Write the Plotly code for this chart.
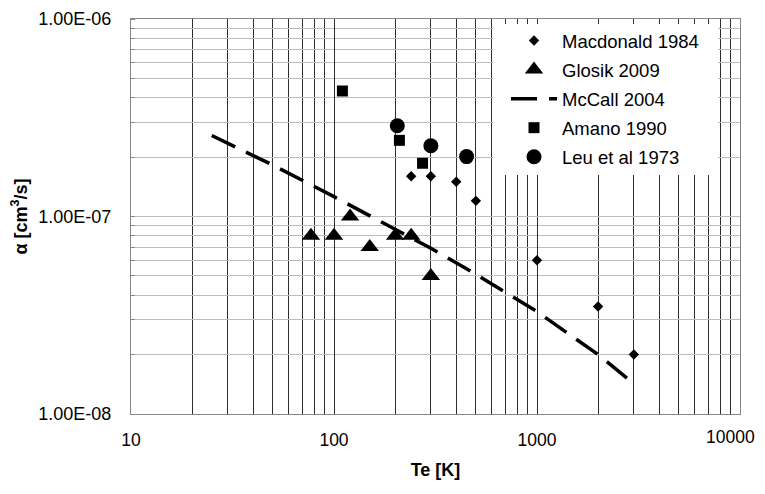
import plotly.graph_objects as go

# ---- data ----
macdonald_T = [240, 300, 400, 500, 1000, 2000, 3000]
macdonald_a = [1.6e-7, 1.6e-7, 1.5e-7, 1.2e-7, 6.0e-8, 3.5e-8, 2.0e-8]

glosik_T = [77, 100, 120, 150, 200, 240, 300]
glosik_a = [8.0e-8, 8.0e-8, 1.0e-7, 7.0e-8, 8.0e-8, 8.0e-8, 5.0e-8]

mccall_T = [25, 50, 100, 200, 300, 500, 1000, 1500, 2000, 3000]
mccall_a = [2.57e-7, 1.82e-7, 1.26e-7, 8.6e-8, 6.9e-8, 5.1e-8, 3.3e-8, 2.46e-8, 2.0e-8, 1.42e-8]

amano_T = [110, 210, 273]
amano_a = [4.32e-7, 2.43e-7, 1.86e-7]

leu_T = [205, 300, 450]
leu_a = [2.88e-7, 2.28e-7, 2.01e-7]

x_tickvals = [10, 100, 1000, 10000]
x_ticktext = ["10", "100", "1000", "10000"]
y_tickvals = [1e-8, 1e-7, 1e-6]
y_ticktext = ["1.00E-08", "1.00E-07", "1.00E-06"]

FONT = "Liberation Sans, Arial, sans-serif"

# page is drawn with an 8px body margin; plot area in figure pixels
OFF = 8
L, R, T, B = 131 - OFF, 740 - OFF, 19 - OFF, 414 - OFF
W, H = 765 - OFF, 494 - OFF
PW, PH = R - L, B - T


def px_x(p):  # reference page pixel -> paper x
    return (p - OFF - L) / PW


def px_y(p):  # reference page pixel -> paper y
    return 1 - (p - OFF - T) / PH


fig = go.Figure()
fig.add_trace(go.Scatter(x=macdonald_T, y=macdonald_a, mode="markers", name="Macdonald 1984",
                         legendgroup="a", marker=dict(symbol="diamond", size=8, color="black")))
fig.add_trace(go.Scatter(x=glosik_T, y=glosik_a, mode="markers", name="Glosik 2009",
                         legendgroup="b", marker=dict(symbol="triangle-up", size=16, color="black")))
fig.add_trace(go.Scatter(x=mccall_T, y=mccall_a, mode="lines", name="McCall 2004",
                         legendgroup="c", line=dict(color="black", width=3.5, dash="26px,12px")))
fig.add_trace(go.Scatter(x=amano_T, y=amano_a, mode="markers", name="Amano 1990",
                         legendgroup="d", marker=dict(symbol="square", size=11, color="black")))
fig.add_trace(go.Scatter(x=leu_T, y=leu_a, mode="markers", name="Leu et al 1973",
                         legendgroup="e", marker=dict(symbol="circle", size=15, color="black")))

# white legend panel covering the grid
fig.add_shape(type="rect", xref="paper", yref="paper",
              x0=px_x(493), x1=px_x(718), y0=px_y(175), y1=px_y(24),
              fillcolor="white", line=dict(width=0), layer="above")

# last x tick label drawn as an annotation so that it stays inside the visible window
fig.add_annotation(text=x_ticktext[-1], xref="paper", yref="paper",
                   x=px_x(756), y=0, xanchor="right", yanchor="middle", yshift=-23,
                   showarrow=False, font=dict(size=17.5), borderpad=0)

fig.update_layout(
    width=W, height=H,
    margin=dict(l=L, r=W - R, t=T, b=H - B, autoexpand=False),
    paper_bgcolor="white", plot_bgcolor="white",
    font=dict(family=FONT, size=18, color="black"),
    showlegend=True,
    legend=dict(x=px_x(506), y=px_y(22), xanchor="left", yanchor="top",
                bgcolor="rgba(0,0,0,0)", borderwidth=0, font=dict(size=18.5),
                itemwidth=46, tracegroupgap=2, traceorder="grouped"),
)
fig.update_xaxes(
    type="log", range=[1, 4], automargin=False,
    tickmode="array", tickvals=x_tickvals[:-1], ticktext=x_ticktext[:-1],
    ticks="", ticklabelstandoff=10, ticklabeloverflow="allow",
    showgrid=True, gridcolor="#2e2e2e", gridwidth=1,
    minor=dict(dtick="D1", showgrid=True, gridcolor="#2e2e2e", gridwidth=1, ticks=""),
    showline=True, linecolor="#868686", linewidth=1, mirror=True,
    zeroline=False,
    title=dict(text="<b>Te [K]</b>", font=dict(size=18), standoff=14),
    tickfont=dict(size=17.5),
)
fig.update_yaxes(
    type="log", range=[-8, -6], automargin=False,
    tickmode="array", tickvals=y_tickvals, ticktext=y_ticktext,
    ticks="", ticklabelstandoff=15, ticklabeloverflow="allow",
    showgrid=True, gridcolor="#bdbdbd", gridwidth=1,
    minor=dict(dtick="D1", showgrid=True, gridcolor="#bdbdbd", gridwidth=1,
               ticks="inside", ticklen=4, tickcolor="#868686"),
    showline=True, linecolor="#868686", linewidth=1, mirror=True,
    zeroline=False,
    title=dict(text="<b>α [cm<sup>3</sup>/s]</b>", font=dict(size=18), standoff=26),
    tickfont=dict(size=18),
)

fig.write_html("out.html")
